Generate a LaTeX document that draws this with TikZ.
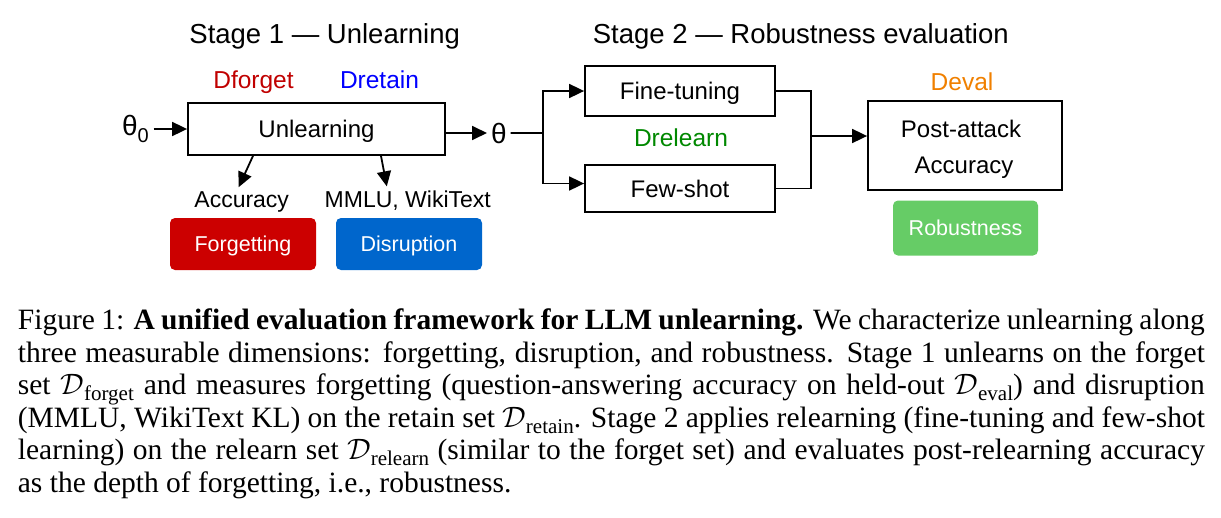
\RequirePackage{fix-cm}
\documentclass[tikz,border=0pt]{standalone}
\usepackage{fontspec}
\setmainfont{Liberation Sans}
\newfontfamily\capfont{Liberation Serif}
\usetikzlibrary{arrows.meta}
\definecolor{fgred}{HTML}{CC0000}
\definecolor{dsblue}{HTML}{0066CC}
\definecolor{rbgreen}{HTML}{66CC66}
\definecolor{dforget}{HTML}{C00000}
\definecolor{dretain}{HTML}{0000FF}
\definecolor{drelearn}{HTML}{008800}
\definecolor{deval}{HTML}{F08000}
\newcommand\fsz[1]{\fontsize{#1}{#1}\selectfont}
\newcommand\Dsub[1]{$\mathcal{D}$\raisebox{-6pt}{\fsz{21}#1}}
\tikzset{
  arr/.style={-{Triangle[length=15pt,width=14pt]}},
  wbox/.style={draw, line width=1.8pt, fill=white, inner sep=0pt, font=\fsz{24}, text height=17pt, text depth=0pt},
  cbox/.style={rounded corners=5pt, inner sep=0pt, text=white, font=\fsz{21.5}, text height=15.4pt, text depth=0pt, minimum width=146pt, minimum height=52pt},
  lbl/.style={anchor=base, inner sep=0pt},
  ttl/.style={lbl, font=\fsz{27.5}},
  dlab/.style={lbl, font=\fsz{24.5}},
  txt/.style={lbl, font=\fsz{23}},
  capline/.style={anchor=base west, inner sep=0pt, font=\capfont\fsz{29.5}, text height=20pt, text depth=5pt},
}
\begin{document}
\begin{tikzpicture}[x=1pt,y=-1pt, line width=1.8pt]
\useasboundingbox (0,0) rectangle (1221,517);
% titles
\node[ttl] (t1) at (324.7,43) {Stage 1 — Unlearning};
\node[ttl] (t2) at (800.8,43) {Stage 2 — Robustness evaluation};
% stage 1
\node[dlab, text=dforget] (dfg) at (253.5,88) {Dforget};
\node[dlab, text=dretain] (drt) at (379.5,88) {Dretain};
\node[wbox, minimum width=257pt, minimum height=52pt] (ul) at (316.5,129) {Unlearning};
\node[anchor=base west, inner sep=0pt, outer xsep=5pt] (t0) at (117,135) {\fsz{28}θ\raisebox{-7pt}{\fsz{20}0}};
\node[anchor=base west, inner sep=0pt, outer xsep=4pt, font=\fsz{28}] (th) at (487,143) {θ};
\draw[arr] (t0.east |- ul.west) -- (ul.west);
\draw[arr] (ul.east |- th.west) -- (th.west);
\node[txt, outer ysep=4pt] (acc) at (241.7,207) {Accuracy};
\node[txt, outer ysep=4pt] (mm) at (407.8,207) {MMLU, WikiText};
\draw[arr] ([xshift=-63.5pt]ul.south) -- ([xshift=-3pt]acc.north);
\draw[arr] ([xshift=64.5pt]ul.south) -- ([xshift=-21pt]mm.north);
\node[cbox, fill=fgred] (fg) at (243,244) {Forgetting};
\node[cbox, fill=dsblue] (ds) at (409,244) {Disruption};
% stage 2
\coordinate (br) at (543,133);
\node[wbox, minimum width=190pt, minimum height=50pt] (ft) at (680,91) {Fine-tuning};
\node[wbox, minimum width=190pt, minimum height=47pt] (fs) at (680,188.5) {Few-shot};
\node[dlab, text=drelearn] (drl) at (681,146) {Drelearn};
\draw (th.east) -- (br);
\draw[arr] (br) |- (ft.west);
\draw[arr] (br) |- ([yshift=5pt]fs.west);
\node[wbox, minimum width=194pt, minimum height=89pt] (pa) at (965,145.5) {};
\node[txt, font=\fsz{24}] (pa1) at (961,137) {Post-attack};
\node[txt, font=\fsz{24}] (pa2) at (964,173) {Accuracy};
\node[dlab, text=deval] (dev) at (962,90) {Deval};
\coordinate (mg) at (811,136);
\draw (ft.east) -| (mg);
\draw (fs.east) -| (mg);
\draw[arr] (mg) -- (mg -| pa.west);
\node[cbox, fill=rbgreen, minimum width=145pt, minimum height=55pt] (rb) at (965.5,228) {Robustness};
% caption
\node[capline] (c1) at (17,329.5) {\hbox to 1187pt{Figure 1: \textbf{A unified evaluation framework for LLM unlearning.} We characterize unlearning along}};
\node[capline] (c2) at (17,362) {\hbox to 1187pt{three measurable dimensions: forgetting, disruption, and robustness. Stage 1 unlearns on the forget}};
\node[capline] (c3) at (17,394.5) {\hbox to 1187pt{set \Dsub{forget} and measures forgetting (question-answering accuracy on held-out \Dsub{eval}) and disruption}};
\node[capline] (c4) at (17,427) {\hbox to 1187pt{(MMLU, WikiText KL) on the retain set \Dsub{retain}. Stage 2 applies relearning (fine-tuning and few-shot}};
\node[capline] (c5) at (17,459.5) {\hbox to 1187pt{learning) on the relearn set \Dsub{relearn} (similar to the forget set) and evaluates post-relearning accuracy}};
\node[capline] (c6) at (17,492) {as the depth of forgetting, i.e., robustness.};
\end{tikzpicture}
\end{document}
